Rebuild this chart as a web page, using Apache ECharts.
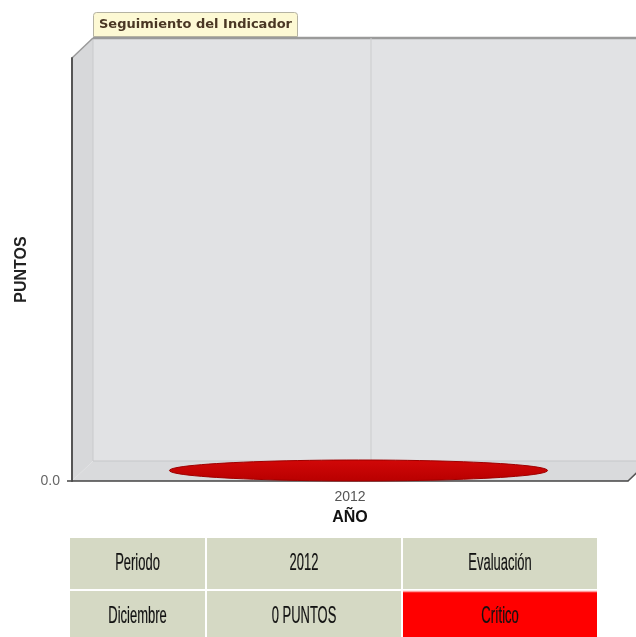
<!DOCTYPE html>
<html>
<head>
<meta charset="utf-8">
<script src="https://cdn.jsdelivr.net/npm/echarts@6/dist/echarts.min.js"></script>
<style>
  html, body { margin: 0; padding: 0; background: #ffffff; }
  #chart { width: 636px; height: 637px; }
</style>
</head>
<body>
<div id="chart"></div>
<script>
// Indicator follow-up: points per year
const years = ['2012'];
const puntos = [0];
const yTicks = [0, 1];
const tableHeader = ['Periodo', '2012', 'Evaluación'];
const tablePeriod = ['Diciembre'];
const tableEvaluation = ['Crítico'];

const DX = 21, DY = 20;        // depth offset of the pseudo-3D box
const chart = echarts.init(document.getElementById('chart'));

function ellipsePoints(cx, cy, rx, ry) {
  const pts = [];
  for (let i = 0; i < 96; i++) {
    const a = (i / 96) * Math.PI * 2;
    pts.push([cx + rx * Math.cos(a), cy + ry * Math.sin(a)]);
  }
  return pts;
}

// walls, floor and edges of the box
function renderWalls(params) {
  const cs = params.coordSys;
  const l = cs.x, t = cs.y, r = cs.x + cs.width, b = cs.y + cs.height;
  return {
    type: 'group',
    children: [
      { type: 'rect', shape: { x: l + DX, y: t - DY, width: cs.width, height: cs.height },
        style: { fill: '#e1e2e4' } },
      { type: 'polygon', shape: { points: [[l, t], [l + DX, t - DY], [l + DX, b - DY], [l, b]] },
        style: { fill: '#d7d8da' } },
      { type: 'polygon', shape: { points: [[l, b], [l + DX, b - DY], [r + DX, b - DY], [r, b]] },
        style: { fill: '#d9dadc' } },
      { type: 'line', shape: { x1: l + DX, y1: t - DY, x2: l + DX, y2: b - DY },
        style: { stroke: '#c9cacc', lineWidth: 1 } },
      { type: 'line', shape: { x1: l + DX, y1: b - DY, x2: r + DX, y2: b - DY },
        style: { stroke: '#c6c7c9', lineWidth: 1 } },
      { type: 'line', shape: { x1: l, y1: t, x2: l + DX, y2: t - DY },
        style: { stroke: '#9a9a9a', lineWidth: 1.5 } },
      { type: 'line', shape: { x1: l + DX, y1: t - DY, x2: r + DX, y2: t - DY },
        style: { stroke: '#9a9a9a', lineWidth: 2.5 } },
      { type: 'line', shape: { x1: r, y1: b, x2: r + DX, y2: b - DY },
        style: { stroke: '#555555', lineWidth: 1.5 } },
      // short extension of the base line to the left of the value axis
      { type: 'line', shape: { x1: l - 5, y1: b, x2: l, y2: b },
        style: { stroke: '#444444', lineWidth: 1.5 } }
    ]
  };
}

// cylinder bar for each year
function renderCylinder(params, api) {
  const cs = params.coordSys;
  const cat = api.value(0);
  const base = api.coord([cat, 0]);
  const top = api.coord([cat, api.value(1)]);
  const bandW = api.size([1, 0])[0];
  const rx = bandW * 0.34, ry = 10.5;
  const cx = base[0] + DX / 2 - 2, cyB = base[1] - DY / 2 - 0.5, cyT = top[1] - DY / 2 - 0.5;
  const red = new echarts.graphic.LinearGradient(0, 0, 0, 1, [
    { offset: 0, color: '#d20808' }, { offset: 1, color: '#b80000' }
  ]);
  const children = [
    { type: 'line', shape: { x1: base[0] + DX, y1: cs.y - DY, x2: base[0] + DX, y2: cs.y + cs.height - DY },
      style: { stroke: '#cbcccd', lineWidth: 1 } }
  ];
  if (cyB - cyT > 0.5) {
    children.push({ type: 'rect', shape: { x: cx - rx, y: cyT, width: rx * 2, height: cyB - cyT },
      style: { fill: '#c40000' } });
  }
  children.push({ type: 'polygon', shape: { points: ellipsePoints(cx, cyB, rx, ry) },
    style: { fill: red, stroke: '#9e0000', lineWidth: 1 } });
  if (cyB - cyT > 0.5) {
    children.push({ type: 'polygon', shape: { points: ellipsePoints(cx, cyT, rx, ry) },
      style: { fill: '#d81010', stroke: '#a30000', lineWidth: 1 } });
  }
  return { type: 'group', children };
}

// summary table below the chart
const colX = [[70, 205], [207, 401], [403, 597]];
const rowY = [[538, 589], [591, 637]];
const rowTexts = [tableHeader, [tablePeriod[0], puntos[0] + ' PUNTOS', tableEvaluation[0]]];
const tableGraphics = [];
rowTexts.forEach((row, ri) => {
  row.forEach((txt, ci) => {
    const [x0, x1] = colX[ci];
    const [y0, y1] = rowY[ri];
    const isAlert = ri === 1 && ci === 2;
    tableGraphics.push({
      type: 'rect', shape: { x: x0, y: y0, width: x1 - x0, height: y1 - y0 },
      style: { fill: isAlert ? '#ff0000' : '#d5d9c4' }, silent: true
    });
    tableGraphics.push({
      type: 'text', x: (x0 + x1) / 2, y: ri === 0 ? 563 : 616, scaleX: 0.54,
      style: { text: txt, fill: '#111111', font: '24px "Liberation Sans", Arial, sans-serif',
               align: 'center', verticalAlign: 'middle', stroke: '#111111', lineWidth: 0.2 },
      silent: true
    });
  });
});
tableGraphics.push({ type: 'line', shape: { x1: 403, y1: 591.5, x2: 597, y2: 591.5 },
  style: { stroke: '#ff9a9a', lineWidth: 1.5 }, silent: true });

const option = {
  backgroundColor: '#ffffff',
  animation: false,
  title: {
    text: 'Seguimiento del Indicador',
    left: 93, top: 12,
    padding: [5, 6, 5, 6],
    backgroundColor: '#fdf9d4',
    borderColor: '#b5b3a2', borderWidth: 1,
    borderRadius: [3, 3, 0, 0],
    textStyle: { fontFamily: '"DejaVu Sans", Verdana, sans-serif', fontSize: 13, fontWeight: 'bold',
                 color: '#4a3724', lineHeight: 15 }
  },
  grid: { left: 72, right: 8, top: 58, bottom: 156, containLabel: false },
  xAxis: {
    type: 'category', data: years,
    name: 'AÑO', nameLocation: 'middle', nameGap: 29,
    nameTextStyle: { fontFamily: '"Liberation Sans", Arial, sans-serif', fontSize: 16, fontWeight: 'bold', color: '#111' },
    axisLine: { lineStyle: { color: '#444', width: 1.5 } },
    axisTick: { alignWithLabel: true, length: 5, lineStyle: { color: '#444' } },
    axisLabel: { margin: 9, color: '#555', fontFamily: '"Liberation Sans", Arial, sans-serif', fontSize: 14 },
    splitLine: { show: false }
  },
  yAxis: {
    type: 'value', min: yTicks[0], max: yTicks[yTicks.length - 1], interval: 1,
    name: 'PUNTOS', nameLocation: 'middle', nameGap: 41, nameRotate: 90,
    nameTextStyle: { fontFamily: '"Liberation Sans", Arial, sans-serif', fontSize: 16, fontWeight: 'bold', color: '#222' },
    axisLine: { show: true, lineStyle: { color: '#555', width: 2 } },
    axisTick: { show: false },
    axisLabel: { margin: 12, color: '#666', fontFamily: '"Liberation Sans", Arial, sans-serif', fontSize: 14,
                 formatter: v => (v === 0 ? v.toFixed(1) : '') },
    splitLine: { show: false }
  },
  series: [
    { type: 'custom', z: -1, silent: true, renderItem: renderWalls, data: [[0, 0]], clip: false },
    { type: 'custom', z: 3, silent: true, renderItem: renderCylinder, clip: false,
      data: years.map((y, i) => [i, puntos[i]]) }
  ],
  graphic: tableGraphics
};
chart.setOption(option);
</script>
</body>
</html>
